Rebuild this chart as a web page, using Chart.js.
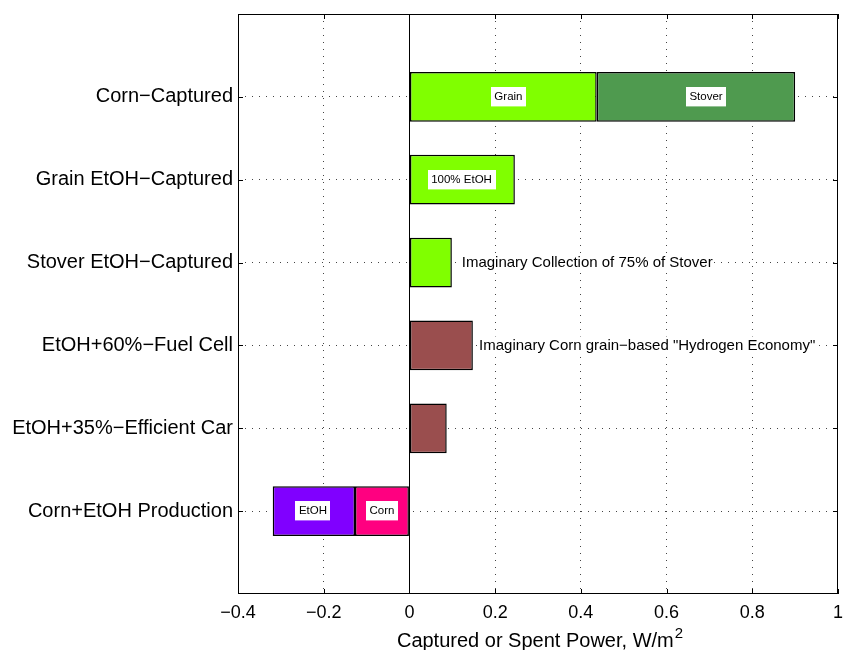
<!DOCTYPE html>
<html>
<head>
<meta charset="utf-8">
<script src="https://cdn.jsdelivr.net/npm/chart.js@4"></script>
<style>
  html, body { margin: 0; padding: 0; background: #fff; }
  #wrap { width: 845px; height: 650px; }
</style>
</head>
<body>
<div id="wrap"><canvas id="c" width="845" height="650"></canvas></div>
<script>
// Rows, top to bottom
const categories = [
  'Corn\u2212Captured',
  'Grain EtOH\u2212Captured',
  'Stover EtOH\u2212Captured',
  'EtOH+60%\u2212Fuel Cell',
  'EtOH+35%\u2212Efficient Car',
  'Corn+EtOH Production'
];

// Segment values, W/m^2 (one entry per row, null where a row has no such segment)
const grainPower  = [0.437, 0.246, 0.099, null, null, null];
const stoverPower = [0.463, null, null, null, null, null];
const usePower    = [null, null, null, 0.148, 0.087, null];
const cornSpent   = [null, null, null, null, null, -0.127];
const etohSpent   = [null, null, null, null, null, -0.192];

// x-axis ticks
const xTicks = [-0.4, -0.2, 0, 0.2, 0.4, 0.6, 0.8, 1];

// Boxed labels on the bars (x in W/m^2, row index into categories)
const boxNotes = [
  { text: 'Grain', x: 0.231, row: 0 },
  { text: 'Stover', x: 0.692, row: 0 },
  { text: '100% EtOH', x: 0.1216, row: 1 },
  { text: 'EtOH', x: -0.225, row: 5 },
  { text: 'Corn', x: -0.064, row: 5 }
];
// Free text next to the bars (left edge x in W/m^2)
const sideNotes = [
  { text: 'Imaginary Collection of 75% of Stover', x: 0.122, row: 2 },
  { text: 'Imaginary Corn grain\u2212based "Hydrogen Economy"', x: 0.1624, row: 3 }
];

const FONT = '"Liberation Sans", Arial, Helvetica, sans-serif';

// One empty slot above and below the rows leaves the margin inside the frame
const axisLabels = [''].concat(categories, ['']);
const pad = arr => [null].concat(arr, [null]);
const rowIndex = r => r + 1;

function fmtTick(v) {
  const r = Math.round(v * 10) / 10;
  if (r === 0) return '0';
  return (r < 0 ? '\u2212' : '') + String(Math.abs(r));
}

// Dotted grid everywhere except where it would sit on the frame
const gridColor = last => ctx => (ctx.index === 0 || ctx.index === last) ? 'rgba(0,0,0,0)' : '#444';

const decorations = {
  id: 'decorations',
  beforeDatasetsDraw(chart) {
    const { ctx, chartArea: a, scales: { x } } = chart;
    const x0 = Math.round(x.getPixelForValue(0)) + 0.5;
    ctx.save();
    ctx.strokeStyle = '#000';
    ctx.lineWidth = 1;
    ctx.beginPath();
    ctx.moveTo(x0, a.top);
    ctx.lineTo(x0, a.bottom);
    ctx.stroke();
    ctx.restore();
  },
  afterDatasetsDraw(chart) {
    const { ctx, chartArea: a, scales: { x, y } } = chart;
    ctx.save();
    // frame
    ctx.strokeStyle = '#000';
    ctx.lineWidth = 1;
    ctx.strokeRect(a.left + 0.5, a.top + 0.5, a.right - a.left - 1, a.bottom - a.top - 1);
    // inward tick marks
    const tl = 5;
    ctx.beginPath();
    xTicks.forEach(v => {
      const px = Math.round(x.getPixelForValue(v)) + 0.5;
      ctx.moveTo(px, a.top); ctx.lineTo(px, a.top + tl);
      ctx.moveTo(px, a.bottom); ctx.lineTo(px, a.bottom - tl);
    });
    categories.forEach((c, i) => {
      const py = Math.round(y.getPixelForValue(rowIndex(i))) + 0.5;
      ctx.moveTo(a.left, py); ctx.lineTo(a.left + tl, py);
      ctx.moveTo(a.right, py); ctx.lineTo(a.right - tl, py);
    });
    ctx.stroke();

    // boxed labels
    ctx.font = '11.5px ' + FONT;
    ctx.textBaseline = 'middle';
    ctx.textAlign = 'center';
    boxNotes.forEach(n => {
      const cx = x.getPixelForValue(n.x);
      const cy = y.getPixelForValue(rowIndex(n.row)) - 0.5;
      const w = ctx.measureText(n.text).width;
      ctx.fillStyle = '#fff';
      ctx.fillRect(Math.round(cx - w / 2 - 3.5), Math.round(cy - 9.7), Math.round(w + 7), 19.4);
      ctx.fillStyle = '#000';
      ctx.fillText(n.text, cx, cy + 0.5);
    });

    // side notes
    ctx.font = '15px ' + FONT;
    ctx.textAlign = 'left';
    sideNotes.forEach(n => {
      const lx = x.getPixelForValue(n.x);
      const cy = y.getPixelForValue(rowIndex(n.row));
      const w = ctx.measureText(n.text).width;
      ctx.fillStyle = '#fff';
      ctx.fillRect(lx - 1, cy - 9, w + 2, 18);
      ctx.fillStyle = '#000';
      ctx.fillText(n.text, lx, cy + 0.5);
    });
    ctx.restore();
  },
  afterDraw(chart) {
    const { ctx, chartArea: a } = chart;
    const main = 'Captured or Spent Power, W/m';
    const sup = '2';
    ctx.save();
    ctx.fillStyle = '#000';
    ctx.textBaseline = 'alphabetic';
    ctx.textAlign = 'left';
    ctx.font = '20px ' + FONT;
    const wMain = ctx.measureText(main).width;
    ctx.font = '15px ' + FONT;
    const wSup = ctx.measureText(sup).width;
    const total = wMain + 1 + wSup;
    const start = (a.left + a.right) / 2 + 2 - total / 2;
    ctx.font = '20px ' + FONT;
    ctx.fillText(main, start, 647);
    ctx.font = '15px ' + FONT;
    ctx.fillText(sup, start + wMain + 1, 638);
    ctx.restore();
  }
};

const barStyle = (color) => ({
  backgroundColor: color,
  borderColor: '#000',
  borderWidth: 1.5,
  borderSkipped: false,
  barPercentage: 0.6,
  categoryPercentage: 1.0
});

new Chart(document.getElementById('c'), {
  type: 'bar',
  data: {
    labels: axisLabels,
    datasets: [
      Object.assign({ label: 'Grain', data: pad(grainPower) }, barStyle('#80ff00')),
      Object.assign({ label: 'Stover', data: pad(stoverPower) }, barStyle('#4f9a4f')),
      Object.assign({ label: 'Use', data: pad(usePower) }, barStyle('#9a4e4e')),
      Object.assign({ label: 'Corn', data: pad(cornSpent) }, barStyle('#ff0080')),
      Object.assign({ label: 'EtOH', data: pad(etohSpent) }, barStyle('#8000ff'))
    ]
  },
  options: {
    indexAxis: 'y',
    responsive: false,
    animation: false,
    devicePixelRatio: 1,
    layout: { padding: { top: 14, right: 7, left: 0, bottom: 0 } },
    plugins: { legend: { display: false }, tooltip: { enabled: false } },
    scales: {
      x: {
        type: 'linear',
        stacked: true,
        min: -0.4,
        max: 1,
        afterBuildTicks: s => { s.ticks = xTicks.map(v => ({ value: v })); },
        afterFit: s => {
          s.height = 56;
          s.paddingLeft = 0; s.paddingRight = 0; s.paddingTop = 0; s.paddingBottom = 0;
        },
        ticks: {
          autoSkip: false,
          maxRotation: 0,
          padding: 8,
          color: '#000',
          font: { family: FONT, size: 18 },
          callback: v => fmtTick(v)
        },
        grid: { color: gridColor(xTicks.length - 1), lineWidth: 1, drawTicks: false },
        border: { display: false, dash: [1, 6] }
      },
      y: {
        type: 'category',
        stacked: true,
        offset: false,
        afterFit: s => {
          s.width = 238;
          s.paddingLeft = 0; s.paddingRight = 0; s.paddingTop = 0; s.paddingBottom = 0;
        },
        ticks: {
          autoSkip: false,
          padding: 5,
          color: '#000',
          font: { family: FONT, size: 20 }
        },
        grid: { color: gridColor(axisLabels.length - 1), lineWidth: 1, drawTicks: false, offset: false },
        border: { display: false, dash: [1, 6] }
      }
    }
  },
  plugins: [decorations]
});
</script>
</body>
</html>
